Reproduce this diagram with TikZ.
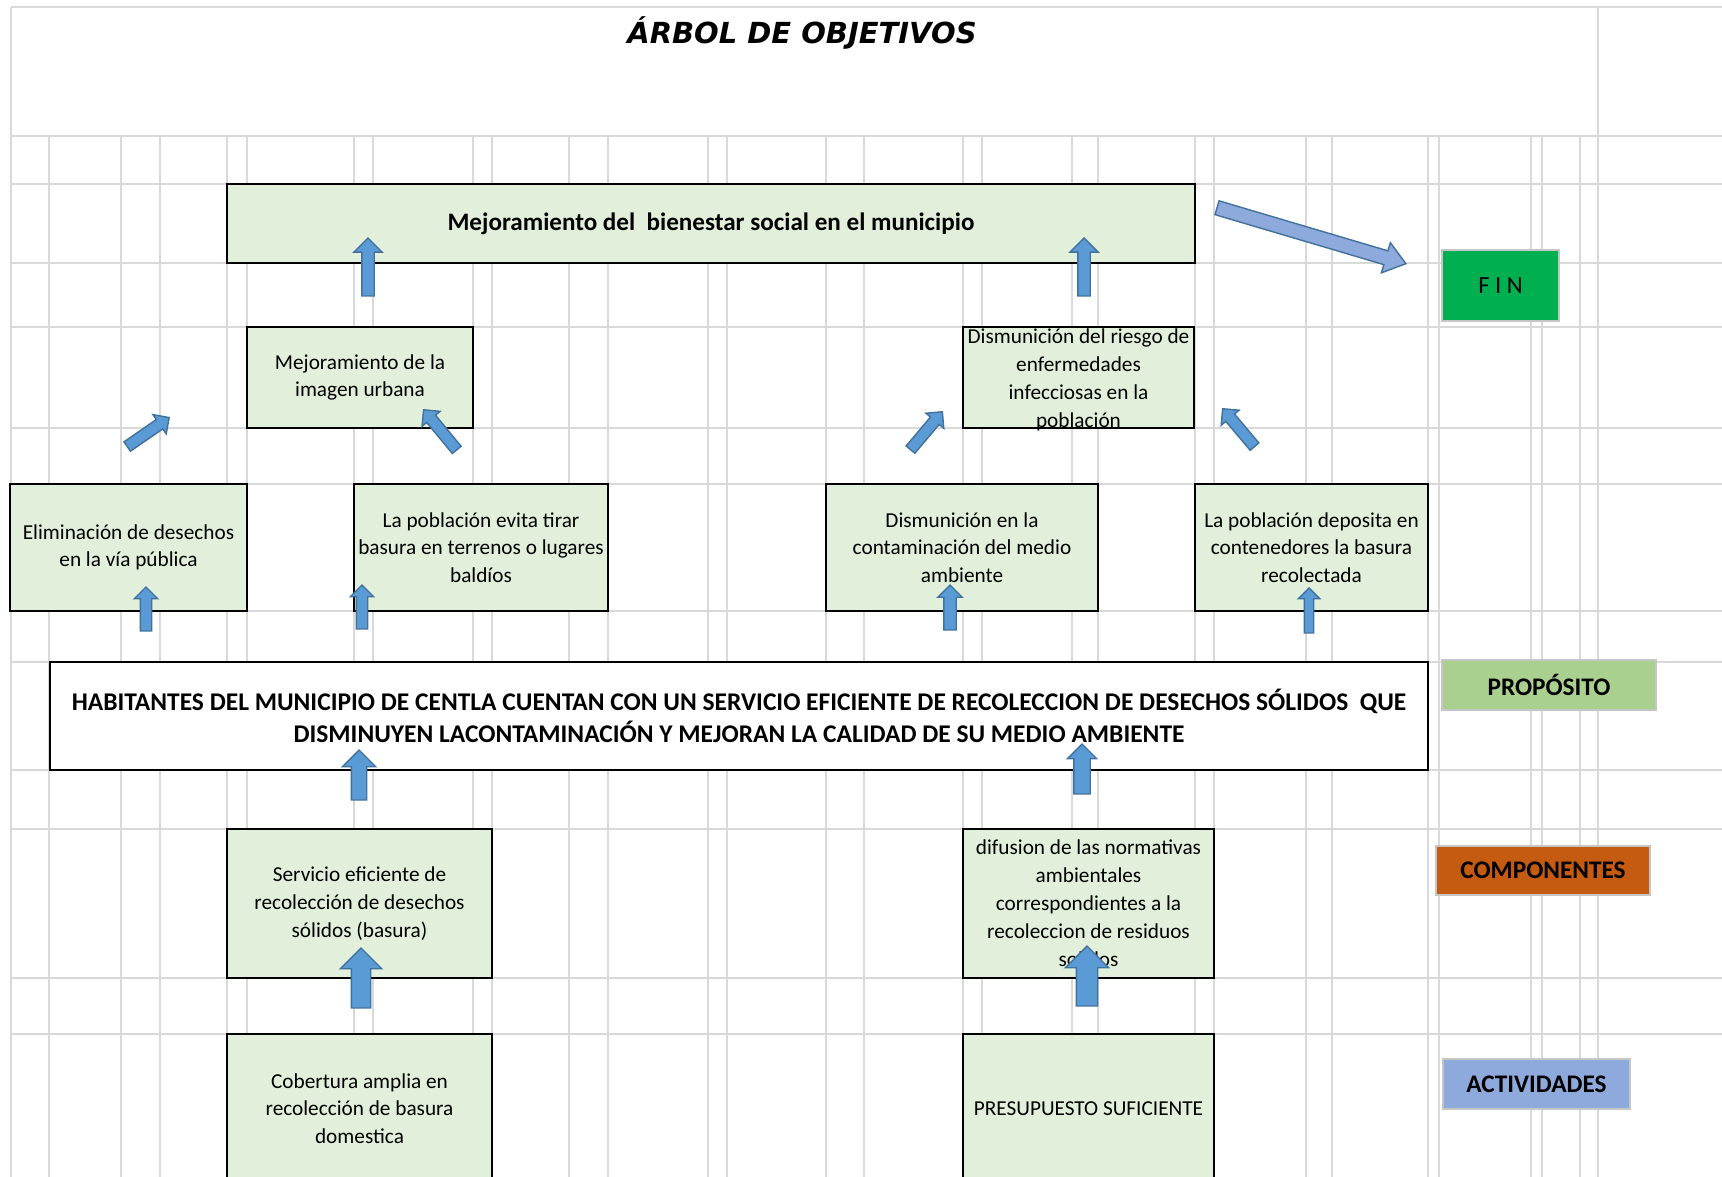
\documentclass[tikz,border=0pt]{standalone}
\usepackage{fontspec}
\setmainfont{Carlito}
\newfontfamily\fuentetitulo{DejaVu Sans Bold Oblique}
\usetikzlibrary{shapes.arrows}

\definecolor{rejilla}{HTML}{D9D9D9}
\definecolor{cajaverde}{HTML}{E2EFDA}
\definecolor{flecha}{HTML}{5B9BD5}
\definecolor{flechaborde}{HTML}{41719C}
\definecolor{flechaclara}{HTML}{8EA9DB}
\definecolor{verdefin}{HTML}{00B050}
\definecolor{verdeprop}{HTML}{A9D08E}
\definecolor{naranjacomp}{HTML}{C55A11}
\definecolor{azulact}{HTML}{8EA9DB}

\begin{document}
\begin{tikzpicture}[
    x=0.02cm, y=-0.02cm,
    celda/.style={draw=rejilla, line width=1pt},
    caja/.style={draw=black, line width=1pt, fill=cajaverde, inner sep=0pt, align=center, font=\fontsize{12.1}{15.7}\selectfont},
    cajafin/.style={caja, font=\fontsize{14.3}{17}\selectfont\bfseries},
    cajaprop/.style={caja, fill=white, font=\fontsize{14.5}{18.2}\selectfont\bfseries},
    texto/.style={inner sep=0pt, align=center, font=\fontsize{12.1}{15.9}\selectfont},
    nivel/.style={draw=gray!45, line width=1pt, inner sep=0pt, font=\fontsize{14.4}{17}\selectfont\bfseries},
    flechaazul/.style n args={3}{single arrow, draw=flechaborde, fill=flecha, line width=0.8pt, inner xsep=0pt, inner ysep=#1, single arrow head extend=#2, minimum height=#3, anchor=tip},
    flechagrande/.style={single arrow, draw=flechaborde, fill=flechaclara, line width=0.8pt, inner xsep=0pt, inner ysep=0.13cm, single arrow head extend=0.17cm, single arrow tip angle=74, minimum height=3.94cm, anchor=tip}
  ]
    \useasboundingbox (0,0) rectangle (1722,1177);

    % Rejilla de la hoja
    \foreach \y in {7,136,184,263,327,428,484,611,662,770,829,978,1034}
      \draw[celda] (11,\y) -- (1722,\y);
    \foreach \x in {49,121,160,227,247,354,373,473,492,569,608,708,727,826,864,963,982,1072,1098,1195,1214,1306,1332,1428,1439,1531,1542,1580}
      \draw[celda] (\x,136) -- (\x,1190);
    \draw[celda] (11,7) -- (11,1190);
    \draw[celda] (1598,7) -- (1598,1190);

    % Titulo
    \node[font=\fuentetitulo\fontsize{16.5}{19}\selectfont] (titulo) at (802,33) {ÁRBOL DE OBJETIVOS};

    % Fin
    \node[cajafin, minimum width=19.36cm, minimum height=1.58cm] (fin) at (711,223.5) {Mejoramiento del\ \ bienestar social en el municipio};
    \node[caja, minimum width=4.52cm, minimum height=2.02cm] (imagen) at (360,377.5) {Mejoramiento de la\\imagen urbana};
    \node[caja, minimum width=4.62cm, minimum height=2.02cm] (riesgo) at (1078.5,377.5) {};
    \node[texto] (riesgotxt) at (1078.5,379.5) {Dismunición del riesgo de\\enfermedades\\infecciosas en la\\población};

    % Efectos directos
    \node[caja, minimum width=4.74cm, minimum height=2.54cm] (eliminacion) at (128.5,547.5) {Eliminación de desechos\\en la vía pública};
    \node[caja, minimum width=5.08cm, minimum height=2.54cm] (evita) at (481,547.5) {La población evita tirar\\basura en terrenos o lugares\\baldíos};
    \node[caja, minimum width=5.44cm, minimum height=2.54cm] (contaminacion) at (962,547.5) {Dismunición en la\\contaminación del medio\\ambiente};
    \node[caja, minimum width=4.66cm, minimum height=2.54cm] (deposita) at (1311.5,547.5) {La población deposita en\\contenedores la basura\\recolectada};

    % Proposito
    \node[cajaprop, minimum width=27.56cm, minimum height=2.16cm] (proposito) at (739,716) {HABITANTES DEL MUNICIPIO DE CENTLA CUENTAN CON UN SERVICIO EFICIENTE DE RECOLECCION DE DESECHOS SÓLIDOS\ \ QUE\\DISMINUYEN LACONTAMINACIÓN Y MEJORAN LA CALIDAD DE SU MEDIO AMBIENTE};

    % Componentes
    \node[caja, minimum width=5.30cm, minimum height=2.98cm] (servicio) at (359.5,903.5) {Servicio eficiente de\\recolección de desechos\\sólidos (basura)};
    \node[caja, minimum width=5.02cm, minimum height=2.98cm] (difusion) at (1088.5,903.5) {};
    \node[texto] (difusiontxt) at (difusion) {difusion de las normativas\\ambientales\\correspondientes a la\\recoleccion de residuos\\solidos};

    % Actividades
    \node[caja, minimum width=5.30cm, minimum height=2.98cm] (cobertura) at (359.5,1108.5) {Cobertura amplia en\\recolección de basura\\domestica};
    \node[caja, minimum width=5.02cm, minimum height=2.98cm] (presupuesto) at (1088.5,1108.5) {PRESUPUESTO SUFICIENTE};

    % Niveles
    \node[nivel, fill=verdefin, font=\fontsize{14}{17}\selectfont, minimum width=2.34cm, minimum height=1.42cm] (nivfin) at (1500.5,285.5) {F I N};
    \node[nivel, fill=verdeprop, minimum width=4.28cm, minimum height=1.0cm] (nivprop) at (1549,685) {PROPÓSITO};
    \node[nivel, fill=naranjacomp, minimum width=4.28cm, minimum height=0.98cm] (nivcomp) at (1543,870.5) {COMPONENTES};
    \node[nivel, fill=azulact, minimum width=3.74cm, minimum height=1.0cm] (nivact) at (1536.5,1084) {ACTIVIDADES};

    % Flechas
    \node[flechaazul={0.11cm}{0.16cm}{1.16cm}, rotate=90] (fA) at (368,237) {};
    \node[flechaazul={0.11cm}{0.16cm}{1.16cm}, rotate=90] (fB) at (1084,237) {};
    \node[flechaazul={0.1cm}{0.12cm}{1.02cm}, rotate=34.6] (dA) at (170,417) {};
    \node[flechaazul={0.1cm}{0.12cm}{1.04cm}, rotate=129.5] (dB) at (423,409) {};
    \node[flechaazul={0.1cm}{0.12cm}{0.99cm}, rotate=49.9] (dC) at (943,411) {};
    \node[flechaazul={0.1cm}{0.12cm}{0.99cm}, rotate=130.1] (dD) at (1222,408) {};
    \node[flechaazul={0.1cm}{0.12cm}{0.88cm}, rotate=90] (sA) at (146,586) {};
    \node[flechaazul={0.1cm}{0.12cm}{0.88cm}, rotate=90] (sB) at (362,584) {};
    \node[flechaazul={0.11cm}{0.12cm}{0.90cm}, rotate=90] (sC) at (950,584) {};
    \node[flechaazul={0.08cm}{0.12cm}{0.90cm}, rotate=90] (sD) at (1309,587) {};
    \node[flechaazul={0.14cm}{0.18cm}{1.0cm}, rotate=90] (pA) at (359,749) {};
    \node[flechaazul={0.15cm}{0.13cm}{1.0cm}, rotate=90] (pB) at (1082,743) {};
    \node[flechaazul={0.18cm}{0.22cm}{1.2cm}, rotate=90] (cA) at (361,947) {};
    \node[flechaazul={0.2cm}{0.22cm}{1.2cm}, rotate=90] (cB) at (1087,945) {};
    \node[flechagrande, rotate=-16.5] (fFin) at (1407,264) {};
  \end{tikzpicture}
\end{document}
